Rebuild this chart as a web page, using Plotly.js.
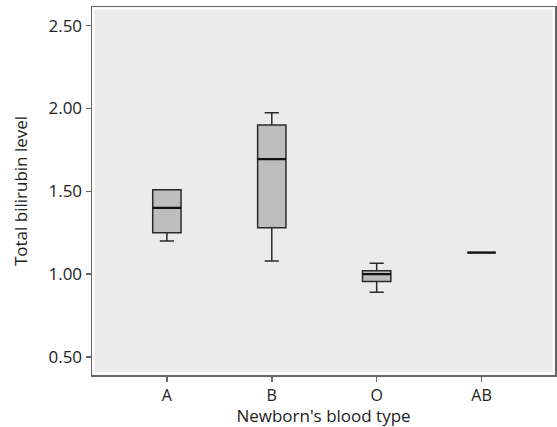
<!DOCTYPE html>
<html>
<head>
<meta charset="utf-8">
<script src="https://cdn.plot.ly/plotly-3.0.1.min.js"></script>
<style>html,body{margin:0;padding:0;background:#fff}#chart{width:557px;height:427px}</style>
</head>
<body>
<div id="chart"></div>
<script>
const categories = ["A", "B", "O", "AB"];
const lowerWhisker = [1.20, 1.08, 0.89, 1.13];
const q1Values = [1.25, 1.28, 0.955, 1.13];
const medianValues = [1.40, 1.695, 1.00, 1.13];
const q3Values = [1.51, 1.90, 1.02, 1.13];
const upperWhisker = [1.51, 1.975, 1.065, 1.13];
const yTickValues = [0.5, 1.0, 1.5, 2.0, 2.5];

const boxTrace = {
  type: "box",
  x: categories,
  q1: q1Values,
  median: medianValues,
  q3: q3Values,
  lowerfence: lowerWhisker,
  upperfence: upperWhisker,
  width: 0.27,
  whiskerwidth: 0.5,
  fillcolor: "#bdbdbd",
  line: {color: "#2a2a2a", width: 1.5},
  boxpoints: false,
  hoverinfo: "skip",
  showlegend: false
};
const medianTrace = {
  type: "box",
  x: categories,
  q1: medianValues,
  median: medianValues,
  q3: medianValues,
  lowerfence: medianValues,
  upperfence: medianValues,
  width: 0.27,
  whiskerwidth: 0,
  fillcolor: "rgba(0,0,0,0)",
  line: {color: "#111111", width: 2.2},
  boxpoints: false,
  hoverinfo: "skip",
  showlegend: false
};

const font = "Open Sans, Liberation Sans, sans-serif";
const layout = {
  width: 557, height: 427,
  margin: {l: 92, r: 2, t: 7, b: 52},
  paper_bgcolor: "#ffffff",
  plot_bgcolor: "#ebebeb",
  boxmode: "overlay",
  showlegend: false,
  font: {family: font, color: "#222222", size: 16},
  xaxis: {
    type: "category",
    categoryorder: "array",
    categoryarray: categories,
    range: [-0.714, 3.70],
    showgrid: false, zeroline: false,
    showline: true, linecolor: "#666666", linewidth: 1.5, mirror: true,
    ticks: "outside", ticklen: 5, tickwidth: 1.5, tickcolor: "#666666",
    tickfont: {family: font, size: 16, color: "#222"},
    title: {text: "Newborn's blood type", font: {family: font, size: 17, color: "#222"}, standoff: 0}
  },
  yaxis: {
    range: [0.391, 2.613],
    tickvals: yTickValues,
    tickformat: ".2f",
    showgrid: false, zeroline: false,
    showline: true, linecolor: "#666666", linewidth: 1.5, mirror: true,
    ticks: "outside", ticklen: 5, tickwidth: 1.5, tickcolor: "#666666",
    tickfont: {family: font, size: 17, color: "#222"},
    title: {text: "Total bilirubin level", font: {family: font, size: 17, color: "#222"}, standoff: 16}
  },
  shapes: [{
    type: "rect", xref: "paper", yref: "paper", x0: 0.003, x1: 0.997, y0: 0.004, y1: 0.996,
    line: {color: "#ffffff", width: 2}, layer: "below"
  }]
};

Plotly.newPlot("chart", [boxTrace, medianTrace], layout, {displayModeBar: false, staticPlot: true});
</script>
</body>
</html>
